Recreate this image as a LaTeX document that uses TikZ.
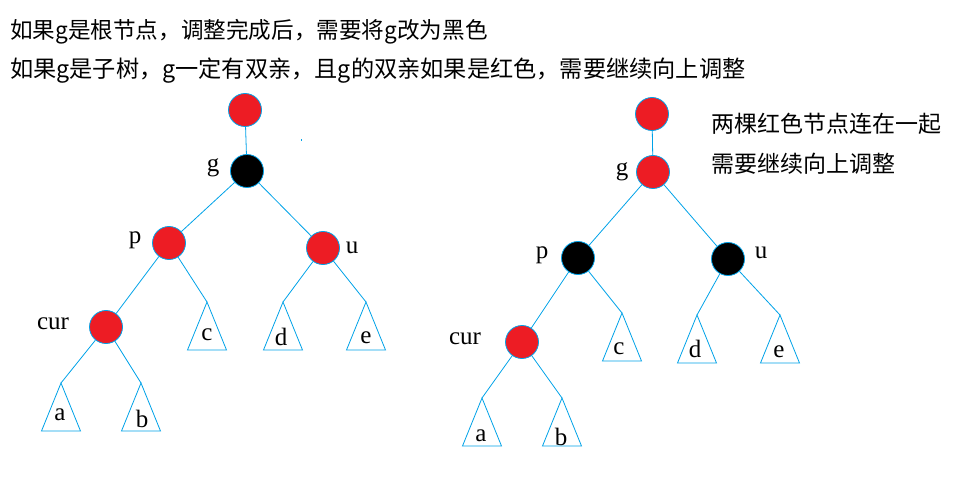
\documentclass[tikz,border=0pt]{standalone}
\usepackage{fontspec}
\setmainfont{Liberation Serif}
\newfontfamily\cjk{Noto Sans CJK SC}
\definecolor{rbred}{HTML}{ED1C24}
\definecolor{edgeblue}{HTML}{00A2E8}
\begin{document}
\begin{tikzpicture}[x=1pt,y=-1pt,
  rbnode/.style={circle,draw=edgeblue,line width=0.8pt,minimum size=33pt,inner sep=0pt},
  rednode/.style={rbnode,fill=rbred},
  blacknode/.style={rbnode,fill=black},
  edge/.style={draw=edgeblue,line width=0.8pt},
  lbl/.style={font=\fontsize{25}{25}\selectfont,inner sep=0pt},
  note/.style={font=\cjk\fontsize{#1}{#1}\selectfont,inner sep=0pt,anchor=west},
  note/.default=23,
  pics/subtree/.style={code={
    \draw[edge,fill=white] (0,0) -- (-19.5,48) -- (19.5,48) -- cycle;
  }},
]
\useasboundingbox (0,0) rectangle (956,497);

% titles
\node[note=22.6] (t1) at (10,32) {如果g是根节点，调整完成后，需要将g改为黑色};
\node[note=23.2] (t2) at (10,71) {如果g是子树，g一定有双亲，且g的双亲如果是红色，需要继续向上调整};
\node[note=23] (t3) at (711,124) {两棵红色节点连在一起};
\node[note=23] (t4) at (711,164) {需要继续向上调整};

% ---------------- left tree ----------------
\node[rednode]   (lr)   at (245,110) {};
\node[blacknode] (lg)   at (247,171) {};
\node[rednode]   (lp)   at (169,243) {};
\node[rednode]   (lu)   at (323,248) {};
\node[rednode]   (lcur) at (106,327) {};
\coordinate (lta) at (61,383);
\coordinate (ltb) at (141,383);
\coordinate (ltc) at (207,302);
\coordinate (ltd) at (283,302);
\coordinate (lte) at (366,302);
\foreach \t in {lta,ltb,ltc,ltd,lte} \pic at (\t) {subtree};
\draw[edge] (lr) -- (lg);
\draw[edge] (lg) -- (lp);
\draw[edge] (lg) -- (lu);
\draw[edge] (lp) -- (lcur);
\draw[edge] (lp) -- (ltc);
\draw[edge] (lu) -- (ltd);
\draw[edge] (lu) -- (lte);
\draw[edge] (lcur) -- (lta);
\draw[edge] (lcur) -- (ltb);
\fill[edgeblue] (300.5,139.5) rectangle (302,141);

\node[lbl] (llg) at (213,168) {g};
\node[lbl] (llp) at (135,240) {p};
\node[lbl] (llu) at (352,248) {u};
\node[lbl] (llcur) at (53,324) {cur};
\node[lbl] (lla) at (60,415) {a};
\node[lbl] (llb) at (142,419) {b};
\node[lbl] (llc) at (207,335) {c};
\node[lbl] (lld) at (281,337) {d};
\node[lbl] (lle) at (366,338) {e};

% ---------------- right tree ----------------
\node[rednode]   (rr)   at (652,114) {};
\node[rednode]   (rg)   at (653,172) {};
\node[blacknode] (rp)   at (578,258) {};
\node[blacknode] (ru)   at (728,259) {};
\node[rednode]   (rcur) at (522,342) {};
\coordinate (rta) at (482,398);
\coordinate (rtb) at (562,398);
\coordinate (rtc) at (622,313);
\coordinate (rtd) at (697,315);
\coordinate (rte) at (780,315);
\foreach \t in {rta,rtb,rtc,rtd,rte} \pic at (\t) {subtree};
\draw[edge] (rr) -- (rg);
\draw[edge] (rg) -- (rp);
\draw[edge] (rg) -- (ru);
\draw[edge] (rp) -- (rcur);
\draw[edge] (rp) -- (rtc);
\draw[edge] (ru) -- (rtd);
\draw[edge] (ru) -- (rte);
\draw[edge] (rcur) -- (rta);
\draw[edge] (rcur) -- (rtb);

\node[lbl] (rlg) at (622,172) {g};
\node[lbl] (rlp) at (542,255) {p};
\node[lbl] (rlu) at (761,253) {u};
\node[lbl] (rlcur) at (465,339) {cur};
\node[lbl] (rla) at (481,436) {a};
\node[lbl] (rlb) at (561,437) {b};
\node[lbl] (rlc) at (619,349) {c};
\node[lbl] (rld) at (695,349) {d};
\node[lbl] (rle) at (779,352) {e};
\end{tikzpicture}
\end{document}
